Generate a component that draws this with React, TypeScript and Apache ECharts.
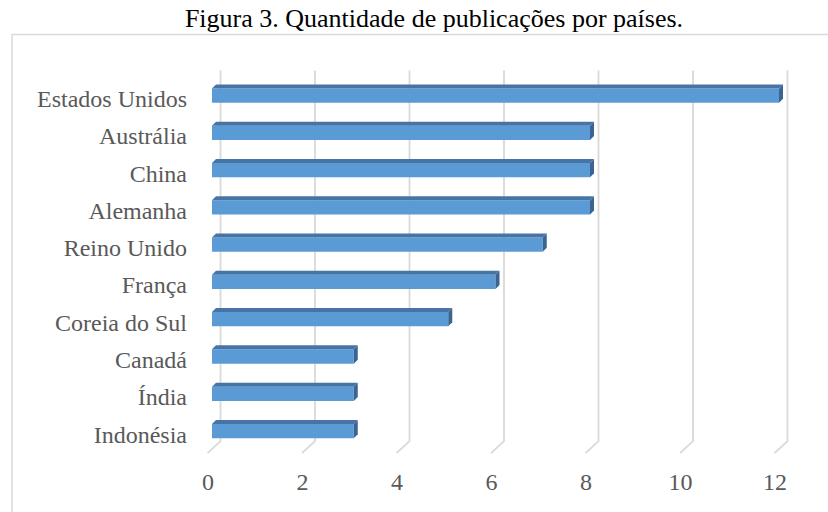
import React, { useEffect, useRef } from "react";
import * as echarts from "echarts";

const titleText = "Figura 3. Quantidade de publicações por países.";
const categories = [
  "Estados Unidos",
  "Austrália",
  "China",
  "Alemanha",
  "Reino Unido",
  "França",
  "Coreia do Sul",
  "Canadá",
  "Índia",
  "Indonésia",
];
const values = [12, 8, 8, 8, 7, 6, 5, 3, 3, 3];
const xTicks = [0, 2, 4, 6, 8, 10, 12];

const FONT = "Liberation Serif";

export default function App() {
  const ref = useRef<HTMLDivElement>(null);
  useEffect(() => {
    if (!ref.current) return;
    const chart = echarts.init(ref.current, null, { renderer: "svg" });
    const depth = 4;
    const faceH = 14.3;
    chart.setOption({
      animation: false,
      backgroundColor: "#ffffff",
      graphic: [
        {
          type: "rect",
          silent: true,
          z: 0,
          shape: { x: 12, y: 34.5, width: 840, height: 520 },
          style: { fill: "none", stroke: "#d9d9d9", lineWidth: 1.5 },
        },
        {
          type: "text",
          x: 434,
          y: 18,
          style: {
            text: titleText,
            fontFamily: FONT,
            fontSize: 26,
            fill: "#000000",
            align: "center",
            verticalAlign: "middle",
          },
        },
      ],
      grid: { left: 212, right: 49, top: 80.4, bottom: 58.8, containLabel: false },
      xAxis: {
        type: "value",
        min: 0,
        max: 12,
        interval: 2,
        splitLine: { show: false },
        axisLine: { show: false },
        axisTick: { show: false },
        axisLabel: {
          fontFamily: FONT,
          fontSize: 24,
          color: "#595959",
          margin: 17,
          padding: [0, 8, 0, 0],
        },
      },
      yAxis: {
        type: "category",
        inverse: true,
        data: categories,
        axisLine: { show: false },
        axisTick: { show: false },
        splitLine: { show: false },
        axisLabel: {
          fontFamily: FONT,
          fontSize: 24,
          color: "#595959",
          margin: 25,
        },
      },
      series: [
        {
          type: "custom",
          name: "grid",
          clip: false,
          silent: true,
          z: 1,
          encode: { x: 0, y: 1 },
          data: xTicks.map((t) => [t, 0]),
          renderItem: (params: any, api: any) => {
            const p = api.coord([api.value(0), 0]);
            const cs = params.coordSys;
            return {
              type: "polyline",
              shape: {
                points: [
                  [p[0] + 8.5, cs.y - 10],
                  [p[0] + 8.5, cs.y + cs.height - 12],
                  [p[0] - 4.5, cs.y + cs.height],
                ],
              },
              style: { stroke: "#d9d9d9", lineWidth: 1.8, fill: "none" },
            };
          },
        },
        {
          type: "custom",
          name: "Publicações",
          clip: false,
          z: 2,
          encode: { x: 0, y: 1 },
          data: values.map((v, i) => [v, i]),
          renderItem: (params: any, api: any) => {
            const idx = api.value(1);
            const s = api.coord([0, idx]);
            const e = api.coord([api.value(0), idx]);
            const yc = s[1] - 3.5;
            const x0 = s[0];
            const x1 = e[0];
            const yT = yc - faceH / 2;
            const yB = yc + faceH / 2;
            return {
              type: "group",
              children: [
                {
                  type: "rect",
                  shape: { x: x0, y: yT, width: x1 - x0, height: faceH },
                  style: { fill: "#5b9bd5" },
                },
                {
                  type: "polygon",
                  shape: {
                    points: [
                      [x0, yT],
                      [x0 + depth, yT - depth],
                      [x1 + depth, yT - depth],
                      [x1, yT],
                    ],
                  },
                  style: { fill: "#4674a6" },
                },
                {
                  type: "polygon",
                  shape: {
                    points: [
                      [x1, yT],
                      [x1 + depth, yT - depth],
                      [x1 + depth, yB - depth],
                      [x1, yB],
                    ],
                  },
                  style: { fill: "#3a6592" },
                },
              ],
            };
          },
        },
      ],
    });
    return () => chart.dispose();
  }, []);
  return (
    <div
      ref={ref}
      style={{ position: "absolute", left: 0, top: 0, width: 828, height: 512 }}
    />
  );
}
